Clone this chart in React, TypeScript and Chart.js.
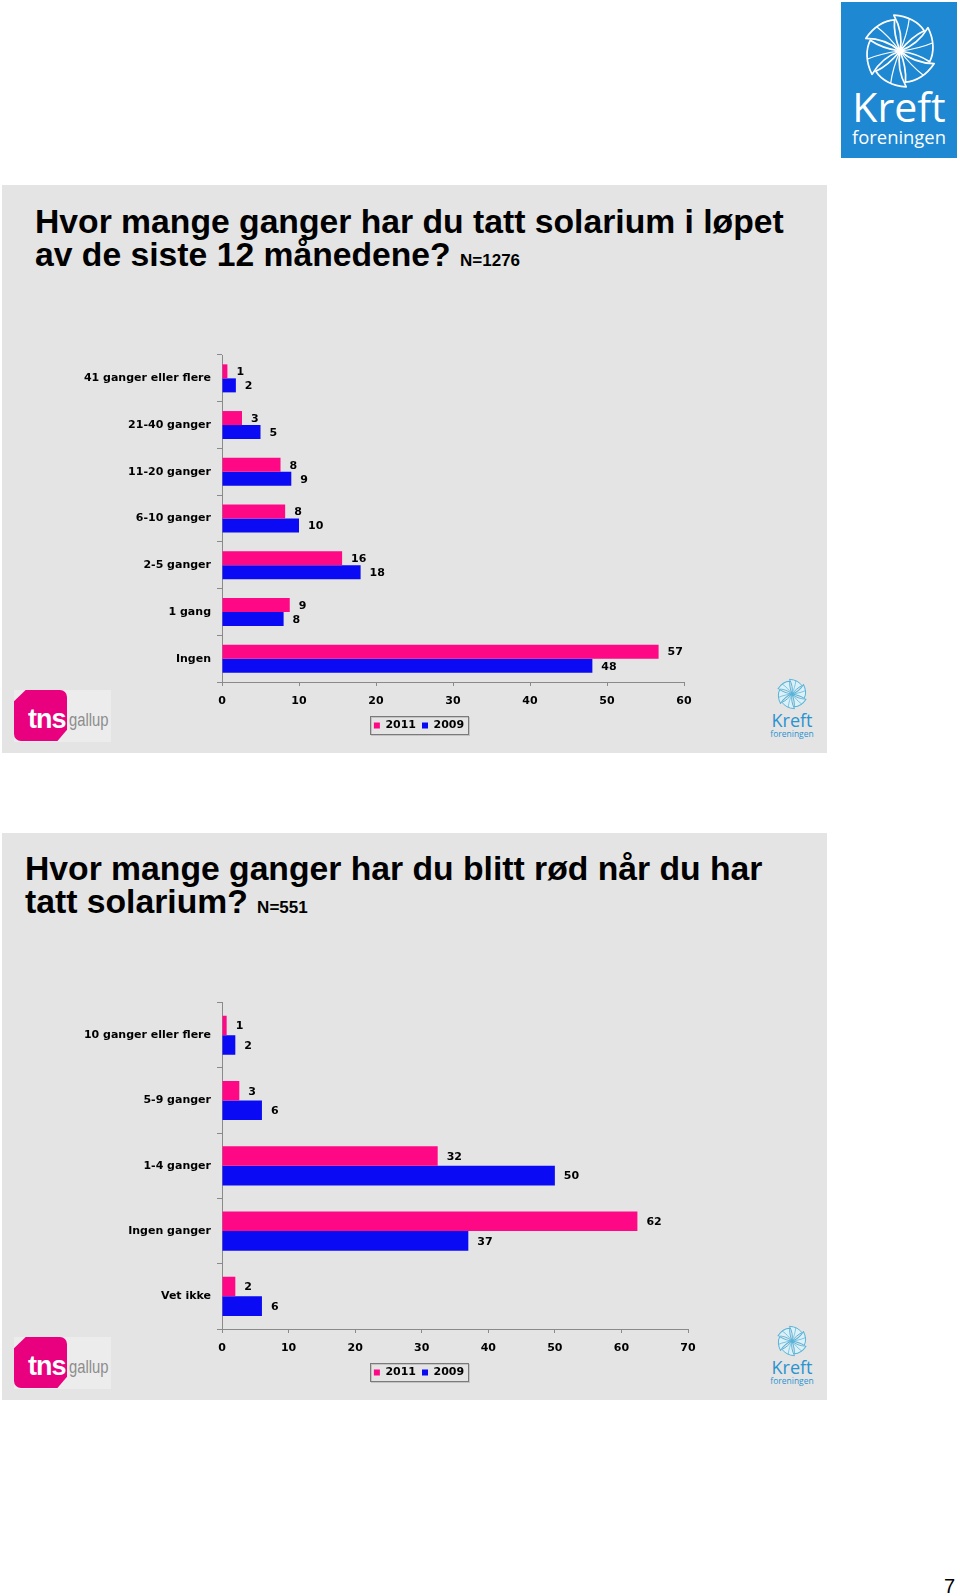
import React, { useEffect, useRef } from "react";
import { Chart, registerables } from "chart.js";

Chart.register(...registerables);

// ---------- data ----------
const seriesNames = ["2011", "2009"];
const seriesColors = ["#FF0886", "#0A0AF4"];

const categories1 = [
  "41 ganger eller flere",
  "21-40 ganger",
  "11-20 ganger",
  "6-10 ganger",
  "2-5 ganger",
  "1 gang",
  "Ingen",
];
const values1_2011 = [0.7, 2.6, 7.6, 8.2, 15.6, 8.8, 56.7];
const values1_2009 = [1.8, 5.0, 9.0, 10.0, 18.0, 8.0, 48.1];
const ticks1 = [0, 10, 20, 30, 40, 50, 60];

const categories2 = [
  "10 ganger eller flere",
  "5-9 ganger",
  "1-4 ganger",
  "Ingen ganger",
  "Vet ikke",
];
const values2_2011 = [0.7, 2.6, 32.4, 62.4, 2.0];
const values2_2009 = [2.0, 6.0, 50.0, 37.0, 6.0];
const ticks2 = [0, 10, 20, 30, 40, 50, 60, 70];

const CHART_FONT = '"DejaVu Sans", Verdana, sans-serif';

// ---------- plugins ----------
const valueLabels = {
  id: "valueLabels",
  afterDatasetsDraw(chart: any) {
    const ctx = chart.ctx;
    ctx.save();
    ctx.font = `bold 11px ${CHART_FONT}`;
    ctx.fillStyle = "#000";
    ctx.textAlign = "left";
    ctx.textBaseline = "middle";
    chart.data.datasets.forEach((ds: any, i: number) => {
      const meta = chart.getDatasetMeta(i);
      meta.data.forEach((el: any, j: number) => {
        ctx.fillText(String(Math.round(ds.data[j])), el.x + 9, el.y + 1);
      });
    });
    ctx.restore();
  },
};

// centre the legend on the whole canvas (layout padding on the right shifts it otherwise)
const legendCentre = {
  id: "legendCentre",
  afterUpdate(chart: any) {
    const lg = chart.legend;
    if (!lg) return;
    const dx = chart.width / 2 - (lg.left + lg.right) / 2;
    lg.left += dx;
    lg.right += dx;
    (lg.legendHitBoxes || []).forEach((h: any) => {
      h.left += dx;
    });
  },
};

const legendFrame = {
  id: "legendFrame",
  afterDraw(chart: any) {
    const lg = chart.legend;
    const hb = lg && lg.legendHitBoxes;
    if (!hb || !hb.length) return;
    let l = Infinity, r = -Infinity, t = Infinity, b = -Infinity;
    hb.forEach((h: any) => {
      l = Math.min(l, h.left);
      r = Math.max(r, h.left + h.width);
      t = Math.min(t, h.top);
      b = Math.max(b, h.top + h.height);
    });
    const ctx = chart.ctx;
    ctx.save();
    ctx.lineWidth = 1;
    ctx.strokeStyle = "#c4c4c4";
    ctx.strokeRect(Math.round(l - 4) + 1.5, Math.round(t - 4) + 1.5, Math.round(r - l + 8), Math.round(b - t + 7));
    ctx.strokeStyle = "#7a7a7a";
    ctx.strokeRect(Math.round(l - 4) + 0.5, Math.round(t - 4) + 0.5, Math.round(r - l + 8), Math.round(b - t + 7));
    ctx.restore();
  },
};

// ---------- chart component ----------
type BarProps = {
  left: number;
  top: number;
  width: number;
  height: number;
  padTop: number;
  padRight: number;
  categories: string[];
  a: number[];
  b: number[];
  ticks: number[];
};

function HBarChart(p: BarProps) {
  const ref = useRef<HTMLCanvasElement | null>(null);
  useEffect(() => {
    if (!ref.current) return;
    const chart = new Chart(ref.current, {
      type: "bar",
      data: {
        labels: p.categories,
        datasets: [
          { label: seriesNames[0], data: p.a, backgroundColor: seriesColors[0], borderWidth: 0 },
          { label: seriesNames[1], data: p.b, backgroundColor: seriesColors[1], borderWidth: 0 },
        ],
      },
      options: {
        indexAxis: "y",
        animation: false,
        responsive: false,
        maintainAspectRatio: false,
        devicePixelRatio: 1,
        layout: { padding: { top: p.padTop, right: p.padRight, left: 0, bottom: 0 } },
        datasets: { bar: { categoryPercentage: 0.6, barPercentage: 1.0 } },
        plugins: {
          legend: {
            display: true,
            position: "bottom",
            labels: {
              boxWidth: 6,
              boxHeight: 6,
              padding: 6,
              color: "#000",
              font: { family: CHART_FONT, size: 11, weight: "bold" },
            },
          },
          tooltip: { enabled: false },
          title: { display: false },
        },
        scales: {
          x: {
            type: "linear",
            min: p.ticks[0],
            max: p.ticks[p.ticks.length - 1],
            afterBuildTicks: (s: any) => {
              s.ticks = p.ticks.map((v) => ({ value: v }));
            },
            afterFit: (s: any) => {
              s.height = 32;
            },
            grid: { display: true, drawOnChartArea: false, drawTicks: true, tickLength: 4, color: "#8a8a8a" },
            border: { display: true, color: "#8a8a8a" },
            ticks: {
              padding: 9,
              color: "#000",
              font: { family: CHART_FONT, size: 11, weight: "bold" },
              maxRotation: 0,
            },
          },
          y: {
            type: "category",
            afterFit: (s: any) => {
              s.width = 146;
            },
            grid: { display: true, drawOnChartArea: false, drawTicks: true, tickLength: 5, offset: true, color: "#8a8a8a" },
            border: { display: true, color: "#8a8a8a" },
            ticks: {
              padding: 6,
              color: "#000",
              font: { family: CHART_FONT, size: 11, weight: "bold" },
            },
          },
        },
      } as any,
      plugins: [legendCentre, valueLabels, legendFrame],
    });
    return () => chart.destroy();
  }, []);
  return (
    <canvas
      ref={ref}
      width={p.width}
      height={p.height}
      style={{ position: "absolute", left: p.left, top: p.top, width: p.width, height: p.height }}
    />
  );
}

// ---------- logos ----------
function Pinwheel({ size, stroke, fill, sw }: { size: number; stroke: string; fill: string; sw: number }) {
  const angles = [0, 60, 120, 180, 240, 300];
  return (
    <svg width={size} height={size} viewBox="-50 -50 100 100" style={{ display: "block" }}>
      {angles.map((a) => (
        <g key={a} transform={`rotate(${a})`}>
          <path
            d="M0,0 C3,-16 0,-32 -8,-46 C10,-45 24,-37 31,-26 C18,-20 8,-10 0,0 Z"
            fill={fill}
            stroke={stroke}
            strokeWidth={sw}
            strokeLinejoin="round"
          />
          <path d="M0,0 C6,-14 10,-26 12,-42" stroke={stroke} strokeWidth={sw * 0.7} fill="none" />
        </g>
      ))}
    </svg>
  );
}

function SmallKreft({ top }: { top: number }) {
  return (
    <div style={{ position: "absolute", left: 766, top, width: 52, height: 64, textAlign: "center" }}>
      <div style={{ marginLeft: 10, width: 32 }}>
        <Pinwheel size={32} stroke="#58b2d8" fill="#dcf0f7" sw={3} />
      </div>
      <div
        style={{
          fontFamily: '"Open Sans", sans-serif',
          fontSize: 18,
          lineHeight: "18px",
          color: "#2b93cf",
          marginTop: 1,
        }}
      >
        Kreft
      </div>
      <div
        style={{
          fontFamily: '"Open Sans", sans-serif',
          fontSize: 8.5,
          lineHeight: "10px",
          color: "#2b93cf",
        }}
      >
        foreningen
      </div>
    </div>
  );
}

function TnsLogo({ top }: { top: number }) {
  return (
    <div style={{ position: "absolute", left: 14, top, width: 97, height: 52 }}>
      <div style={{ position: "absolute", left: 0, top: 0, width: 97, height: 52, background: "#ececec" }} />
      <div
        style={{
          position: "absolute",
          left: 0,
          top: 0,
          width: 53,
          height: 51,
          background: "#E8007F",
          borderRadius: 7,
          clipPath: "polygon(22% 0, 100% 0, 100% 78%, 82% 100%, 0 100%, 0 22%)",
        }}
      />
      <div
        style={{
          position: "absolute",
          left: 14,
          top: 14,
          fontFamily: '"Liberation Sans", Arial, sans-serif',
          fontWeight: "bold",
          fontSize: 27,
          lineHeight: "30px",
          color: "#fff",
          letterSpacing: -1,
        }}
      >
        tns
      </div>
      <div
        style={{
          position: "absolute",
          left: 55,
          top: 19,
          fontFamily: '"Liberation Sans", Arial, sans-serif',
          fontSize: 19,
          lineHeight: "22px",
          color: "#8d8d8d",
          transform: "scaleX(0.78)",
          transformOrigin: "left top",
        }}
      >
        gallup
      </div>
    </div>
  );
}

const titleStyle: React.CSSProperties = {
  position: "absolute",
  fontFamily: '"Liberation Sans", Arial, sans-serif',
  fontWeight: "bold",
  fontSize: 33.7,
  lineHeight: "33px",
  color: "#000",
  whiteSpace: "nowrap",
};

const nStyle: React.CSSProperties = {
  fontSize: 17,
  fontWeight: "bold",
};

export default function App() {
  return (
    <div style={{ position: "absolute", left: 0, top: 0, width: 960, height: 1596, background: "#fff", overflow: "hidden" }}>
      {/* big logo */}
      <div style={{ position: "absolute", left: 841, top: 2, width: 116, height: 156, background: "#1E88D2" }}>
        <div style={{ position: "absolute", left: 20, top: 10, width: 78 }}>
          <Pinwheel size={78} stroke="#ffffff" fill="none" sw={2.2} />
        </div>
        <div
          style={{
            position: "absolute",
            left: 0,
            width: 116,
            top: 82,
            textAlign: "center",
            fontFamily: '"Open Sans", sans-serif',
            fontSize: 41,
            lineHeight: "44px",
            color: "#fff",
          }}
        >
          Kreft
        </div>
        <div
          style={{
            position: "absolute",
            left: 0,
            width: 116,
            top: 124,
            textAlign: "center",
            fontFamily: '"Open Sans", sans-serif',
            fontSize: 18.4,
            lineHeight: "22px",
            color: "#fff",
          }}
        >
          foreningen
        </div>
      </div>

      {/* panel 1 */}
      <div style={{ position: "absolute", left: 2, top: 185, width: 825, height: 568, background: "#E4E4E4" }} />
      <div style={{ ...titleStyle, left: 35, top: 205 }}>
        Hvor mange ganger har du tatt solarium i løpet
        <br />
        av de siste 12 månedene? <span style={nStyle}>N=1276</span>
      </div>
      <HBarChart
        left={76}
        top={340}
        width={686}
        height={401}
        padTop={15}
        padRight={78}
        categories={categories1}
        a={values1_2011}
        b={values1_2009}
        ticks={ticks1}
      />
      <TnsLogo top={690} />
      <SmallKreft top={678} />

      {/* panel 2 */}
      <div style={{ position: "absolute", left: 2, top: 833, width: 825, height: 567, background: "#E4E4E4" }} />
      <div style={{ ...titleStyle, left: 25, top: 852 }}>
        Hvor mange ganger har du blitt rød når du har
        <br />
        tatt solarium? <span style={nStyle}>N=551</span>
      </div>
      <HBarChart
        left={76}
        top={990}
        width={686}
        height={398}
        padTop={12}
        padRight={74}
        categories={categories2}
        a={values2_2011}
        b={values2_2009}
        ticks={ticks2}
      />
      <TnsLogo top={1337} />
      <SmallKreft top={1325} />

      {/* page number */}
      <div
        style={{
          position: "absolute",
          left: 944,
          top: 1575,
          fontFamily: '"Liberation Sans", Arial, sans-serif',
          fontSize: 20,
          lineHeight: "22px",
          color: "#000",
        }}
      >
        7
      </div>
    </div>
  );
}
